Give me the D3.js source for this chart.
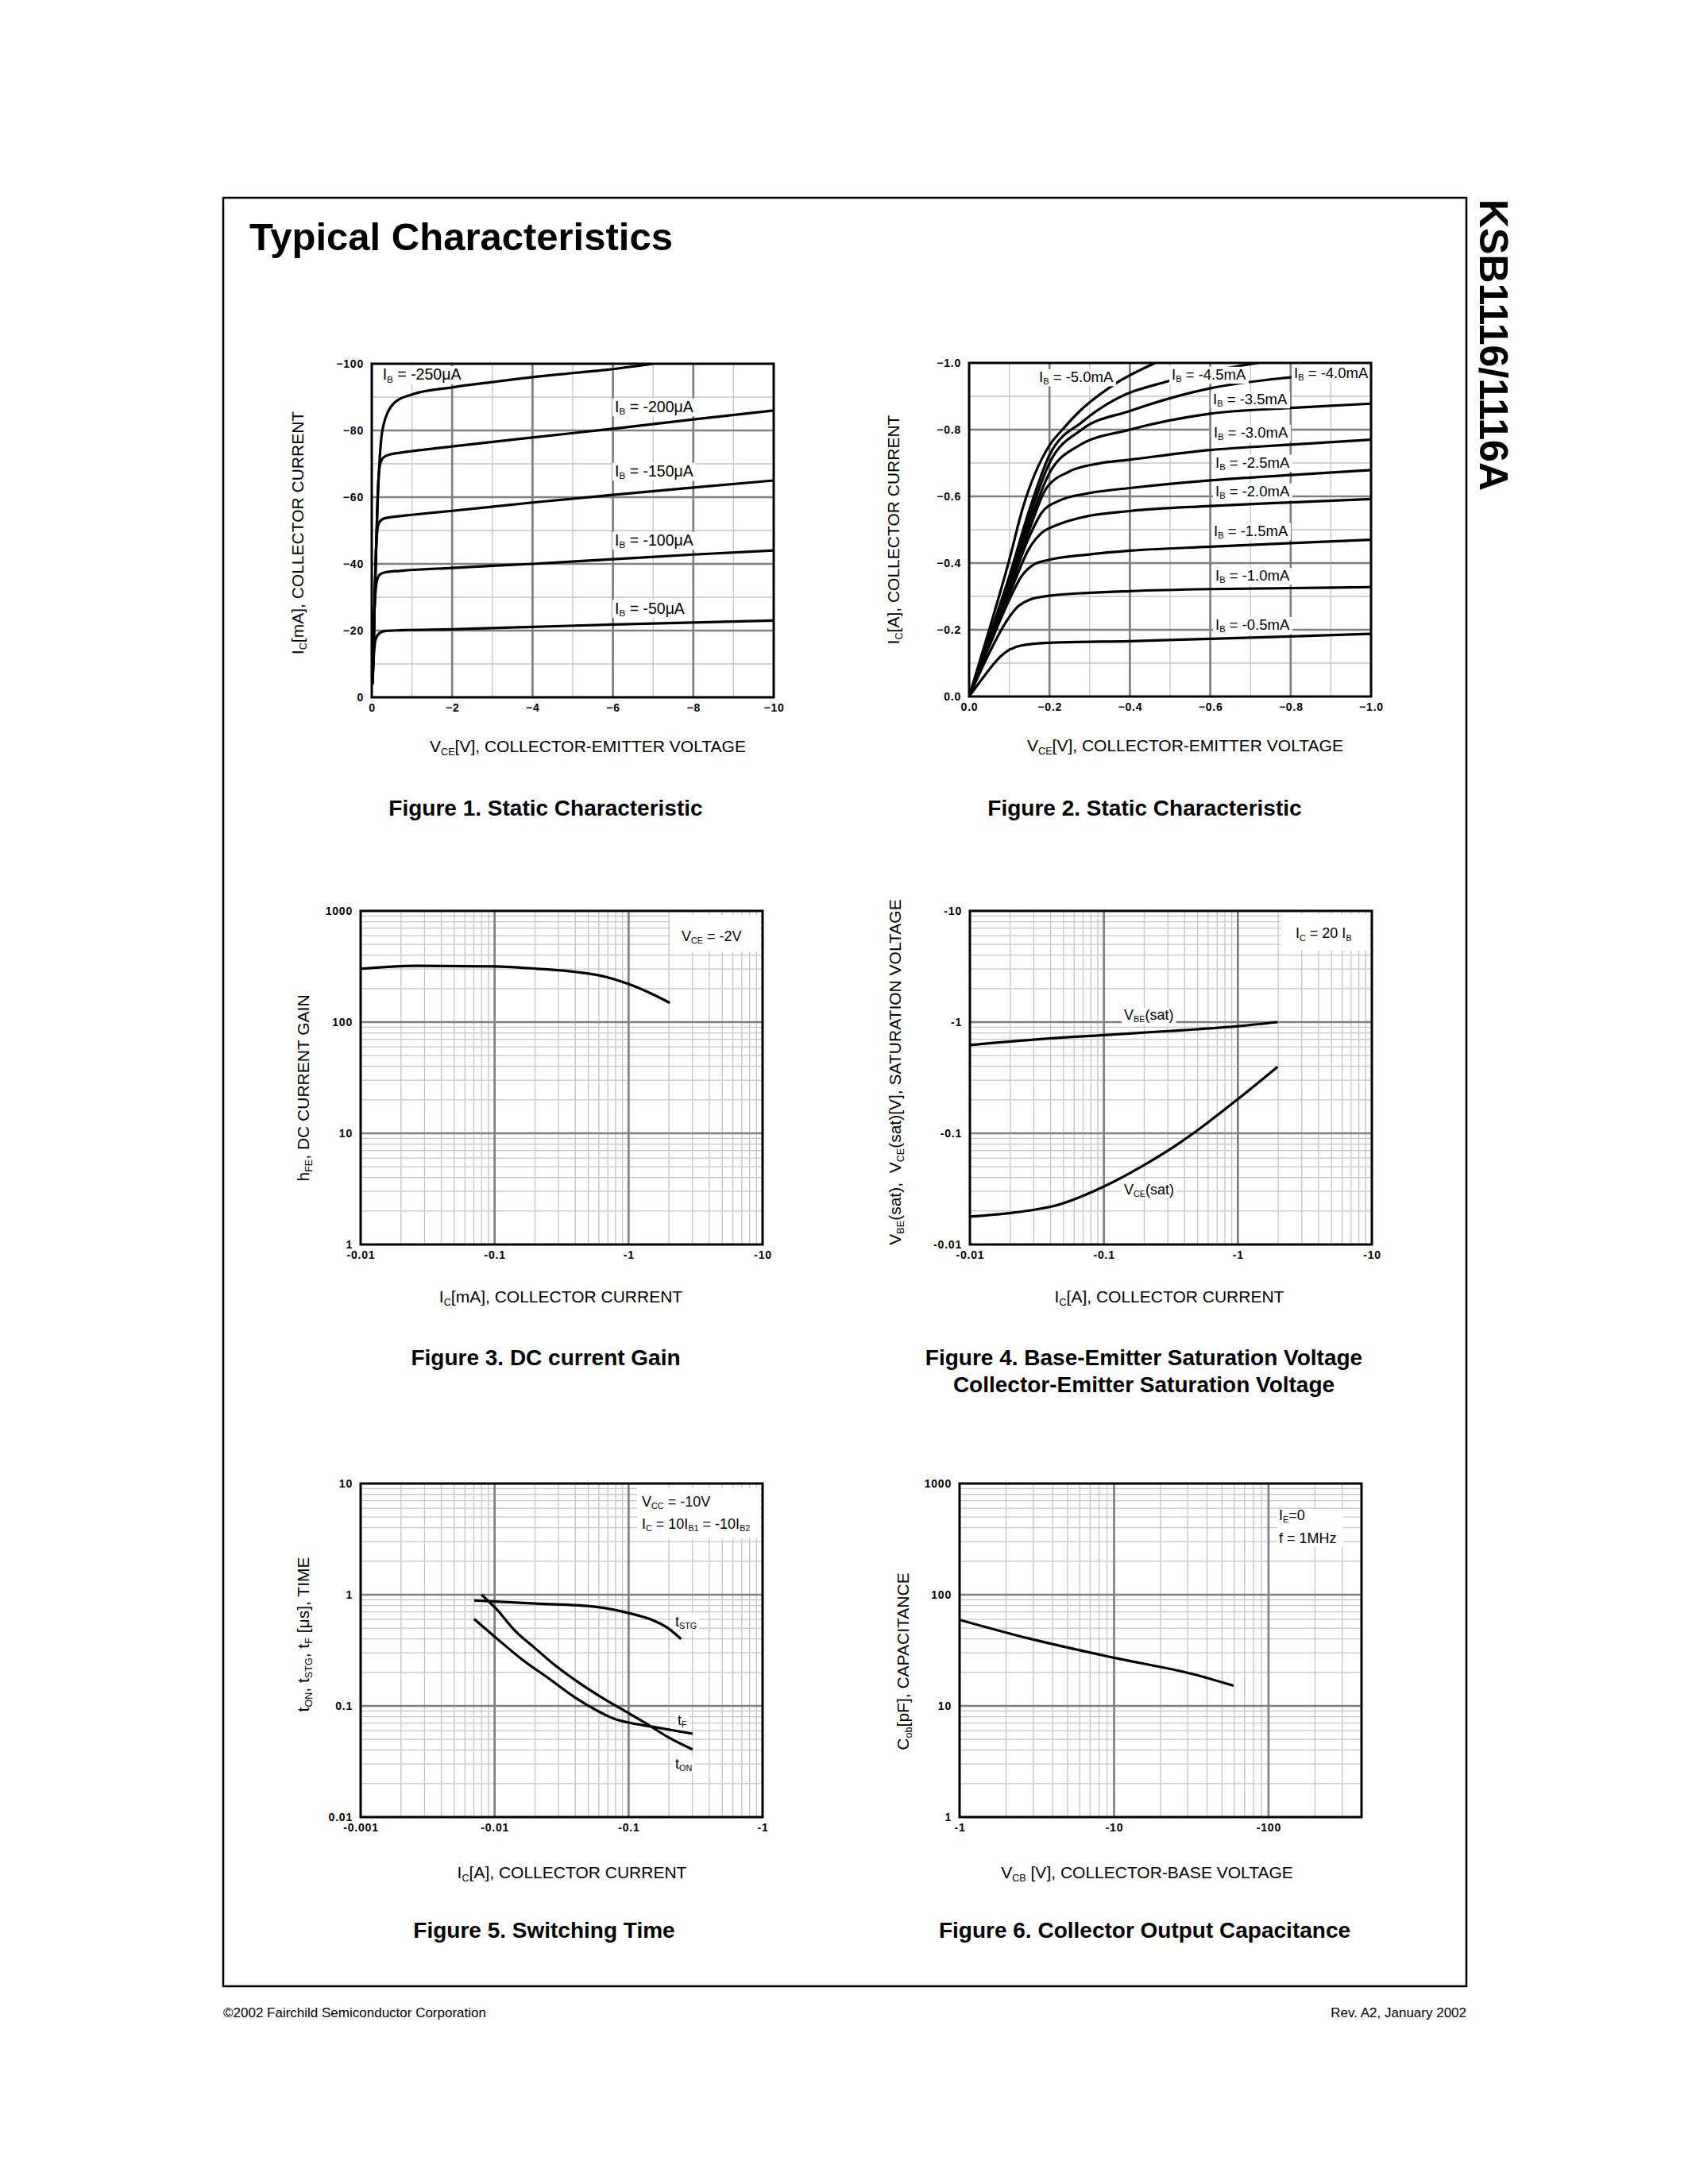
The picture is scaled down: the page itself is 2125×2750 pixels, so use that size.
<!DOCTYPE html>
<html lang="en">
<head>
<meta charset="UTF-8">
<title>Typical Characteristics</title>
<script src="https://cdn.jsdelivr.net/npm/d3@7"></script>
<style>
  body { margin: 0; background: #fff; }
  svg { display: block; }
  text { font-family: "Liberation Sans", Arial, Helvetica, sans-serif; white-space: pre; }
</style>
</head>
<body>
<script>
// ---- Figure 1: IC[mA] vs VCE[V]
const f1Labels = ['I_{B} = -250μA', 'I_{B} = -200μA', 'I_{B} = -150μA', 'I_{B} = -100μA', 'I_{B} = -50μA'];
const f1Ib250 = [[-0.02,-4],[-0.04,-12],[-0.07,-28],[-0.11,-45],[-0.15,-60],[-0.19,-70],[-0.24,-78],[-0.3,-82],[-0.4,-85.5],[-0.57,-88.4],[-1,-90.8],[-2,-92.9],[-3,-94.5],[-4,-96],[-5,-97.2],[-6,-98.4],[-7,-100]];
const f1Ib200 = [[-0.02,-4],[-0.04,-12],[-0.07,-28],[-0.11,-45],[-0.14,-58],[-0.17,-66],[-0.22,-70.5],[-0.3,-72],[-0.45,-72.8],[-0.7,-73.3],[-2,-75.2],[-4,-77.9],[-6,-80.5],[-8,-83.3],[-10,-86]];
const f1Ib150 = [[-0.02,-4],[-0.04,-12],[-0.07,-28],[-0.1,-42],[-0.13,-49],[-0.18,-52.3],[-0.3,-53.6],[-0.6,-54.2],[-1,-54.7],[-2,-55.9],[-4,-58.4],[-6,-60.7],[-8,-62.9],[-10,-65]];
const f1Ib100 = [[-0.02,-4],[-0.04,-14],[-0.06,-24],[-0.09,-31],[-0.13,-35],[-0.2,-36.8],[-0.35,-37.5],[-0.7,-37.9],[-2,-38.8],[-4,-40],[-6,-41.4],[-8,-42.8],[-10,-44]];
const f1Ib50 = [[-0.02,-4],[-0.035,-9],[-0.06,-14],[-0.1,-17.5],[-0.2,-19.3],[-0.35,-19.9],[-0.7,-20.1],[-2,-20.4],[-4,-21.1],[-6,-21.8],[-8,-22.4],[-10,-23]];
const f1XTicks = [0, -2, -4, -6, -8, -10];
const f1YTicks = [0, -20, -40, -60, -80, -100];

// ---- Figure 2: IC[A] vs VCE[V]
const f2Labels = ['I_{B} = -5.0mA', 'I_{B} = -4.5mA', 'I_{B} = -4.0mA', 'I_{B} = -3.5mA', 'I_{B} = -3.0mA',
                  'I_{B} = -2.5mA', 'I_{B} = -2.0mA', 'I_{B} = -1.5mA', 'I_{B} = -1.0mA', 'I_{B} = -0.5mA'];
const f2Ib50 = [[0,0],[-0.05,-0.2],[-0.1,-0.41],[-0.133,-0.563],[-0.2,-0.753],[-0.232,-0.8],[-0.273,-0.853],[-0.364,-0.938],[-0.463,-1.0]];
const f2Ib45 = [[0,0],[-0.05,-0.18],[-0.1,-0.36],[-0.15,-0.56],[-0.2,-0.724],[-0.282,-0.824],[-0.364,-0.891],[-0.488,-0.943],[-0.6,-0.975],[-0.72,-1.0]];
const f2Ib40 = [[0,0],[-0.05,-0.175],[-0.1,-0.35],[-0.15,-0.54],[-0.2,-0.7],[-0.28,-0.8],[-0.4,-0.856],[-0.6,-0.924],[-0.8,-0.957],[-1,-0.976]];
const f2Ib35 = [[0,0],[-0.05,-0.17],[-0.1,-0.34],[-0.15,-0.52],[-0.2,-0.67],[-0.27,-0.75],[-0.4,-0.8],[-0.6,-0.848],[-0.8,-0.865],[-1,-0.878]];
const f2Ib30 = [[0,0],[-0.05,-0.165],[-0.1,-0.33],[-0.15,-0.5],[-0.19,-0.62],[-0.25,-0.675],[-0.32,-0.698],[-0.4,-0.71],[-0.6,-0.739],[-0.8,-0.755],[-1,-0.77]];
const f2Ib25 = [[0,0],[-0.05,-0.16],[-0.1,-0.32],[-0.15,-0.48],[-0.18,-0.55],[-0.22,-0.585],[-0.3,-0.61],[-0.4,-0.625],[-0.6,-0.648],[-0.8,-0.664],[-1,-0.679]];
const f2Ib20 = [[0,0],[-0.05,-0.155],[-0.1,-0.305],[-0.15,-0.445],[-0.18,-0.49],[-0.22,-0.515],[-0.28,-0.537],[-0.4,-0.556],[-0.6,-0.571],[-0.8,-0.582],[-1,-0.592]];
const f2Ib15 = [[0,0],[-0.05,-0.15],[-0.1,-0.29],[-0.13,-0.36],[-0.16,-0.395],[-0.2,-0.41],[-0.3,-0.426],[-0.4,-0.437],[-0.6,-0.449],[-0.8,-0.46],[-1,-0.47]];
const f2Ib10 = [[0,0],[-0.05,-0.13],[-0.09,-0.22],[-0.12,-0.268],[-0.15,-0.29],[-0.2,-0.302],[-0.3,-0.311],[-0.4,-0.316],[-0.6,-0.322],[-0.8,-0.325],[-1,-0.328]];
const f2Ib05 = [[0,0],[-0.04,-0.065],[-0.07,-0.11],[-0.1,-0.14],[-0.13,-0.153],[-0.2,-0.161],[-0.4,-0.166],[-0.6,-0.173],[-0.8,-0.18],[-1,-0.188]];
const f2XTicks = [0, -0.2, -0.4, -0.6, -0.8, -1.0];
const f2YTicks = [0, -0.2, -0.4, -0.6, -0.8, -1.0];

// ---- Figure 3: hFE vs IC[mA]
const f3Ic = [-0.01, -0.0267, -0.1, -0.2075, -0.411, -0.65, -1.0, -1.44, -2.03];
const f3Hfe = [302, 321, 317, 302, 282, 258, 220, 183, 149];
const f3XTicks = [-0.01, -0.1, -1, -10];
const f3XLabels = ['-0.01', '-0.1', '-1', '-10'];
const f3YTicks = [1, 10, 100, 1000];

// ---- Figure 4: VBE(sat), VCE(sat) vs IC[A]
const f4VbeIc = [-0.01, -0.0388, -0.1, -0.27, -0.476, -1.0, -1.98];
const f4Vbe = [-0.621, -0.713, -0.764, -0.824, -0.859, -0.92, -1.0];
const f4VceIc = [-0.01, -0.0276, -0.0436, -0.1, -0.191, -0.358, -0.476, -1.0, -1.98];
const f4Vce = [-0.0178, -0.0202, -0.0224, -0.0332, -0.0502, -0.0802, -0.102, -0.203, -0.397];
const f4YTicks = [-0.01, -0.1, -1, -10];
const f4YLabels = ['-0.01', '-0.1', '-1', '-10'];

// ---- Figure 5: switching time vs IC[A]
const f5StgIc = [-0.00703, -0.0201, -0.056, -0.1, -0.15, -0.195, -0.246];
const f5Stg = [0.889, 0.832, 0.78, 0.684, 0.593, 0.504, 0.4];
const f5OnIc = [-0.008, -0.0104, -0.0143, -0.0201, -0.0267, -0.0398, -0.063, -0.1, -0.142, -0.195, -0.3];
const f5On = [1.0, 0.735, 0.47, 0.329, 0.245, 0.171, 0.119, 0.086, 0.067, 0.0527, 0.0406];
const f5FIc = [-0.00703, -0.0104, -0.016, -0.0253, -0.0398, -0.056, -0.0805, -0.1, -0.15, -0.3];
const f5F = [0.604, 0.403, 0.262, 0.177, 0.119, 0.093, 0.0755, 0.0708, 0.065, 0.0562];
const f5XTicks = [-0.001, -0.01, -0.1, -1];
const f5XLabels = ['-0.001', '-0.01', '-0.1', '-1'];
const f5YTicks = [0.01, 0.1, 1, 10];
const f5YLabels = ['0.01', '0.1', '1', '10'];

// ---- Figure 6: Cob vs VCB
const f6Vcb = [-1, -2.72, -10, -32.5, -59.3];
const f6Cob = [59.4, 40.9, 27.1, 19.3, 15.2];
const f6XTicks = [-1, -10, -100];
const f6XLabels = ['-1', '-10', '-100'];

const zip = (a, b) => a.map((v, i) => [v, b[i]]);

const svg = d3.select('body').append('svg').attr('width', 2125).attr('height', 2750);
svg.append('rect').attr('width', 2125).attr('height', 2750).attr('fill', '#fff');

// page frame and headings
svg.append('rect').attr('x', 281).attr('y', 249).attr('width', 1565).attr('height', 2252)
  .attr('fill', 'none').attr('stroke', '#000').attr('stroke-width', 2.5);
svg.append('text').attr('x', 314).attr('y', 315).attr('font-size', 49).attr('font-weight', 'bold')
  .text('Typical Characteristics');
svg.append('text').attr('transform', 'translate(1863,251) rotate(90)').attr('font-size', 50)
  .attr('font-weight', 'bold').text('KSB1116/1116A');
svg.append('text').attr('x', 281).attr('y', 2540).attr('font-size', 17)
  .text('©2002 Fairchild Semiconductor Corporation');
svg.append('text').attr('x', 1846).attr('y', 2540).attr('font-size', 17).attr('text-anchor', 'end')
  .text('Rev. A2, January 2002');

// text with _{sub} parts
function rich(g, str, size) {
  const t = g.append('text').attr('font-size', size);
  const parts = str.split(/(_\{[^}]*\})/).filter(p => p);
  let shifted = false;
  for (const p of parts) {
    if (p.startsWith('_{')) {
      t.append('tspan').attr('font-size', size * 0.6).attr('dy', shifted ? 0 : size * 0.18).text(p.slice(2, -1));
      shifted = true;
    } else {
      t.append('tspan').attr('dy', shifted ? -size * 0.18 : 0).text(p);
      shifted = false;
    }
  }
  return t;
}

function logGrid(lo, hi, sign) {
  const major = [], minor = [];
  for (let e = Math.round(Math.log10(lo)); Math.pow(10, e) < hi * 0.999; e++) {
    const d = Math.pow(10, e);
    if (d > lo * 1.001) major.push(sign * d);
    for (let k = 2; k <= 9; k++) if (k * d < hi * 0.999) minor.push(sign * k * d);
  }
  return { major, minor };
}

function linGrid(lo, hi, step) {
  const major = [], minor = [];
  const n = Math.round((hi - lo) / (step / 2));
  for (let i = 1; i < n; i++) (i % 2 ? minor : major).push(lo + i * step / 2);
  return { major, minor };
}

function drawChart(o) {
  const [x0, y0, w, h] = o.box;
  const g = svg.append('g');
  const x = o.x.range([x0, x0 + w]);
  const y = o.y.range([y0 + h, y0]);

  g.append('clipPath').attr('id', 'clip' + o.id)
    .append('rect').attr('x', x0).attr('y', y0).attr('width', w).attr('height', h);

  const vline = (sel, vals, col, sw) => sel.append('g').selectAll('line').data(vals).join('line')
    .attr('x1', d => x(d)).attr('x2', d => x(d)).attr('y1', y0).attr('y2', y0 + h)
    .attr('stroke', col).attr('stroke-width', sw);
  const hline = (sel, vals, col, sw) => sel.append('g').selectAll('line').data(vals).join('line')
    .attr('y1', d => y(d)).attr('y2', d => y(d)).attr('x1', x0).attr('x2', x0 + w)
    .attr('stroke', col).attr('stroke-width', sw);
  vline(g, o.xGrid.minor, '#c4c4c4', 1.3);
  hline(g, o.yGrid.minor, '#c4c4c4', 1.3);
  vline(g, o.xGrid.major, '#808080', 2.7);
  hline(g, o.yGrid.major, '#808080', 2.7);

  const line = d3.line().x(d => x(d[0])).y(d => y(d[1])).curve(d3.curveMonotoneX);
  g.append('g').attr('clip-path', `url(#clip${o.id})`)
    .selectAll('path').data(o.series).join('path')
    .attr('d', line).attr('fill', 'none').attr('stroke', '#000')
    .attr('stroke-width', 3.2).attr('stroke-linejoin', 'round');

  (o.boxes || []).forEach(b => g.append('rect')
    .attr('x', x0 + b[0]).attr('y', y0 + b[1]).attr('width', b[2] - b[0]).attr('height', b[3] - b[1])
    .attr('fill', '#fff'));

  (o.labels || []).forEach(l => {
    const t = rich(g, l.text, l.size || 18).attr('x', x0 + l.dx).attr('y', y0 + l.dy);
    if (l.bg) {
      const bb = t.node().getBBox();
      g.insert('rect', () => t.node()).attr('x', bb.x - 3).attr('y', bb.y + 1)
        .attr('width', bb.width + 6).attr('height', bb.height - 1).attr('fill', '#fff');
    }
  });

  g.append('rect').attr('x', x0).attr('y', y0).attr('width', w).attr('height', h)
    .attr('fill', 'none').attr('stroke', '#000').attr('stroke-width', 3);

  const styleAxis = ax => {
    ax.select('.domain').remove();
    ax.attr('font-size', 14).attr('font-weight', 'bold').attr('letter-spacing', 0.8)
      .attr('font-family', '"Liberation Sans", Arial, Helvetica, sans-serif');
  };
  g.append('g').attr('transform', `translate(0,${y0 + h})`)
    .call(d3.axisBottom(x).tickValues(o.xTicks).tickFormat((d, i) => o.xLabels[i]).tickSize(0).tickPadding(8))
    .call(styleAxis);
  g.append('g').attr('transform', `translate(${x0},0)`)
    .call(d3.axisLeft(y).tickValues(o.yTicks).tickFormat((d, i) => o.yLabels[i]).tickSize(0).tickPadding(10))
    .call(styleAxis);

  rich(g, o.xTitle[0], 21).attr('x', o.xTitle[1]).attr('y', o.xTitle[2]).attr('text-anchor', 'middle');
  rich(g, o.yTitle[0], 21).attr('text-anchor', 'middle')
    .attr('transform', `translate(${o.yTitle[1]},${o.yTitle[2]}) rotate(-90)`);
  o.caption.forEach((c, i) => g.append('text').attr('x', o.captionX).attr('y', o.captionY + i * 34)
    .attr('text-anchor', 'middle').attr('font-size', 28).attr('font-weight', 'bold').text(c));
}

const fmt1 = d => d === 0 ? '0' : d3.format('.0f')(d);
const fmt2 = d => d3.format('.1f')(d);

// Figure 1
drawChart({
  id: 1, box: [468, 458, 506, 420],
  x: d3.scaleLinear().domain([0, -10]), y: d3.scaleLinear().domain([0, -100]),
  xGrid: linGrid(0, -10, -2), yGrid: linGrid(0, -100, -20),
  xTicks: f1XTicks, xLabels: f1XTicks.map(fmt1), yTicks: f1YTicks, yLabels: f1YTicks.map(fmt1),
  series: [f1Ib250, f1Ib200, f1Ib150, f1Ib100, f1Ib50],
  labels: [[13.7, 20], [306, 60.7], [306, 141.7], [306, 228.7], [306, 314.6]]
    .map((p, i) => ({ text: f1Labels[i], dx: p[0], dy: p[1], bg: true, size: 19.5 })),
  xTitle: ['V_{CE}[V], COLLECTOR-EMITTER VOLTAGE', 740, 947],
  yTitle: ['I_{C}[mA], COLLECTOR CURRENT', 382, 671],
  caption: ['Figure 1. Static Characteristic'], captionX: 687, captionY: 1027
});

// Figure 2
drawChart({
  id: 2, box: [1220, 457, 506, 420],
  x: d3.scaleLinear().domain([0, -1]), y: d3.scaleLinear().domain([0, -1]),
  xGrid: linGrid(0, -1, -0.2), yGrid: linGrid(0, -1, -0.2),
  xTicks: f2XTicks, xLabels: f2XTicks.map(fmt2), yTicks: f2YTicks, yLabels: f2YTicks.map(fmt2),
  series: [f2Ib50, f2Ib45, f2Ib40, f2Ib35, f2Ib30, f2Ib25, f2Ib20, f2Ib15, f2Ib10, f2Ib05],
  labels: [[88, 24], [255, 20.8], [409, 18.8], [307, 51.9], [308, 93.8], [310, 131.7], [310, 167.7],
           [308, 217.6], [310, 274], [310, 336]]
    .map((p, i) => ({ text: f2Labels[i], dx: p[0], dy: p[1], bg: true, size: 18.5 })),
  xTitle: ['V_{CE}[V], COLLECTOR-EMITTER VOLTAGE', 1492, 946],
  yTitle: ['I_{C}[A], COLLECTOR CURRENT', 1132, 667],
  caption: ['Figure 2. Static Characteristic'], captionX: 1441, captionY: 1027
});

// Figure 3
drawChart({
  id: 3, box: [454, 1147, 506, 420],
  x: d3.scaleLog().domain([-0.01, -10]), y: d3.scaleLog().domain([1, 1000]),
  xGrid: logGrid(0.01, 10, -1), yGrid: logGrid(1, 1000, 1),
  xTicks: f3XTicks, xLabels: f3XLabels, yTicks: f3YTicks, yLabels: f3YTicks.map(String),
  series: [zip(f3Ic, f3Hfe)],
  boxes: [[389, 5, 503, 51]],
  labels: [{ text: 'V_{CE} = -2V', dx: 404, dy: 37.7 }],
  xTitle: ['I_{C}[mA], COLLECTOR CURRENT', 706, 1640],
  yTitle: ['h_{FE}, DC CURRENT GAIN', 389, 1370],
  caption: ['Figure 3. DC current Gain'], captionX: 687, captionY: 1719
});

// Figure 4
drawChart({
  id: 4, box: [1221, 1147, 506, 420],
  x: d3.scaleLog().domain([-0.01, -10]), y: d3.scaleLog().domain([-0.01, -10]),
  xGrid: logGrid(0.01, 10, -1), yGrid: logGrid(0.01, 10, -1),
  xTicks: f3XTicks, xLabels: f3XLabels, yTicks: f4YTicks, yLabels: f4YLabels,
  series: [zip(f4VbeIc, f4Vbe), zip(f4VceIc, f4Vce)],
  boxes: [[392, 4, 503, 50]],
  labels: [{ text: 'I_{C} = 20 I_{B}', dx: 410, dy: 34.3 },
           { text: 'V_{BE}(sat)', dx: 194, dy: 137, bg: true },
           { text: 'V_{CE}(sat)', dx: 194, dy: 356.5, bg: true }],
  xTitle: ['I_{C}[A], COLLECTOR CURRENT', 1472, 1640],
  yTitle: ['V_{BE}(sat),  V_{CE}(sat)[V], SATURATION VOLTAGE', 1134, 1350],
  caption: ['Figure 4. Base-Emitter Saturation Voltage', 'Collector-Emitter Saturation Voltage'],
  captionX: 1440, captionY: 1719
});

// Figure 5
drawChart({
  id: 5, box: [454, 1868, 506, 420],
  x: d3.scaleLog().domain([-0.001, -1]), y: d3.scaleLog().domain([0.01, 10]),
  xGrid: logGrid(0.001, 1, -1), yGrid: logGrid(0.01, 10, 1),
  xTicks: f5XTicks, xLabels: f5XLabels, yTicks: f5YTicks, yLabels: f5YLabels,
  series: [zip(f5StgIc, f5Stg), zip(f5OnIc, f5On), zip(f5FIc, f5F)],
  boxes: [[348, 5, 503, 69]],
  labels: [{ text: 'V_{CC} = -10V', dx: 354, dy: 28.7 },
           { text: 'I_{C} = 10I_{B1} = -10I_{B2}', dx: 354, dy: 56.7 },
           { text: 't_{STG}', dx: 396, dy: 179.6, bg: true },
           { text: 't_{F}', dx: 399, dy: 304, bg: true },
           { text: 't_{ON}', dx: 396, dy: 359, bg: true }],
  xTitle: ['I_{C}[A], COLLECTOR CURRENT', 720, 2365],
  yTitle: ['t_{ON}, t_{STG}, t_{F} [μs], TIME', 389, 2058],
  caption: ['Figure 5. Switching Time'], captionX: 685, captionY: 2440
});

// Figure 6
drawChart({
  id: 6, box: [1208, 1868, 506, 420],
  x: d3.scaleLog().domain([-1, -400]), y: d3.scaleLog().domain([1, 1000]),
  xGrid: logGrid(1, 400, -1), yGrid: logGrid(1, 1000, 1),
  xTicks: f6XTicks, xLabels: f6XLabels, yTicks: f3YTicks, yLabels: f3YTicks.map(String),
  series: [zip(f6Vcb, f6Cob)],
  boxes: [[400, 32, 483, 80]],
  labels: [{ text: 'I_{E}=0', dx: 402, dy: 45.5 }, { text: 'f = 1MHz', dx: 402, dy: 74.6 }],
  xTitle: ['V_{CB} [V], COLLECTOR-BASE VOLTAGE', 1444, 2365],
  yTitle: ['C_{ob}[pF], CAPACITANCE', 1144, 2092],
  caption: ['Figure 6. Collector Output Capacitance'], captionX: 1441, captionY: 2440
});
</script>
</body>
</html>
